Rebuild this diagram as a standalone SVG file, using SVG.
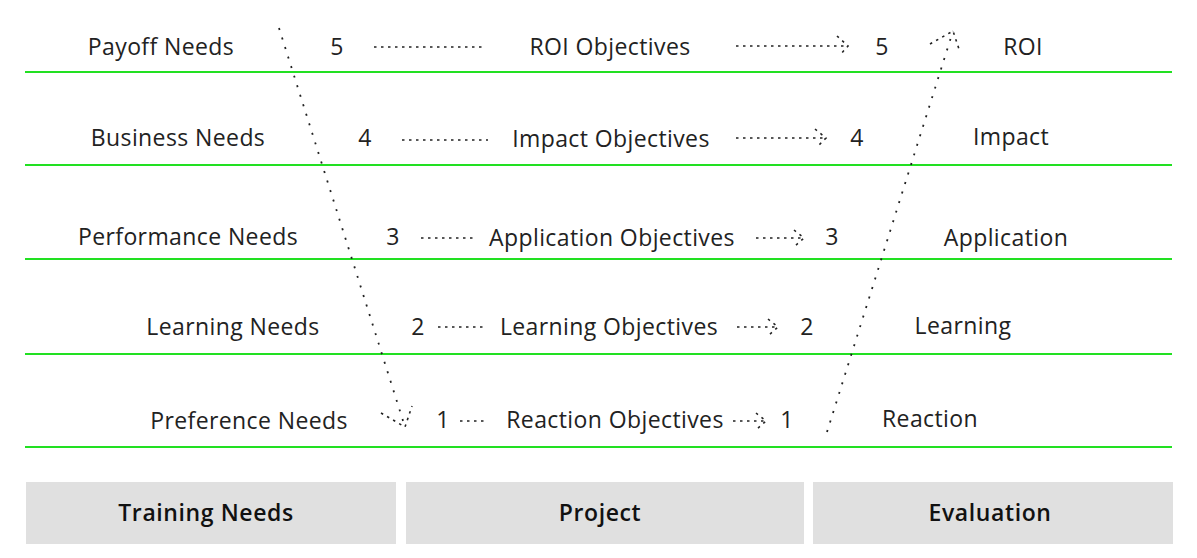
<svg xmlns="http://www.w3.org/2000/svg" width="1197" height="558" viewBox="0 0 1197 558">
<style>
.t{font-family:"Open Sans","Liberation Sans",sans-serif;font-size:23px;letter-spacing:0.4px;fill:#222;text-anchor:middle}
.b{font-family:"Open Sans","Liberation Sans",sans-serif;font-size:23px;font-weight:600;letter-spacing:0.6px;fill:#111;text-anchor:middle}
.g{stroke:#22e022;stroke-width:2}
.d{fill:none;stroke:#222;stroke-width:1.6;stroke-dasharray:2.5 4.5}
.dd{fill:none;stroke:#222;stroke-width:1.8;stroke-dasharray:2 8}
.box{fill:#e0e0e0}
</style>
<rect width="1197" height="558" fill="#fff"/>
<g id="grid">
<line class="g" x1="25" y1="72" x2="1172" y2="72"/>
<line class="g" x1="25" y1="165" x2="1172" y2="165"/>
<line class="g" x1="25" y1="259" x2="1172" y2="259"/>
<line class="g" x1="25" y1="354" x2="1172" y2="354"/>
<line class="g" x1="25" y1="447" x2="1172" y2="447"/>
</g>
<g id="training-needs">
<rect class="box" x="26" y="482" width="370" height="62"/>
<text class="b" x="206" y="521">Training Needs</text>
</g>
<g id="project">
<rect class="box" x="406" y="482" width="398" height="62"/>
<text class="b" x="600" y="521">Project</text>
</g>
<g id="evaluation">
<rect class="box" x="813" y="482" width="360" height="62"/>
<text class="b" x="990" y="521">Evaluation</text>
</g>
<g id="row5">
<text class="t" x="161" y="55">Payoff Needs</text>
<text class="t" x="337" y="55">5</text>
<text class="t" x="610" y="55">ROI Objectives</text>
<text class="t" x="882" y="55">5</text>
<text class="t" x="1023" y="55">ROI</text>
</g>
<g id="row4">
<text class="t" x="178" y="146">Business Needs</text>
<text class="t" x="365" y="146">4</text>
<text class="t" x="611" y="147">Impact Objectives</text>
<text class="t" x="857" y="146">4</text>
<text class="t" x="1011" y="145">Impact</text>
</g>
<g id="row3">
<text class="t" x="188" y="245">Performance Needs</text>
<text class="t" x="393" y="245">3</text>
<text class="t" x="612" y="246">Application Objectives</text>
<text class="t" x="832" y="245">3</text>
<text class="t" x="1006" y="246">Application</text>
</g>
<g id="row2">
<text class="t" x="233" y="335">Learning Needs</text>
<text class="t" x="418" y="335">2</text>
<text class="t" x="609" y="335">Learning Objectives</text>
<text class="t" x="807" y="335">2</text>
<text class="t" x="963" y="334">Learning</text>
</g>
<g id="row1">
<text class="t" x="249" y="429">Preference Needs</text>
<text class="t" x="443" y="428">1</text>
<text class="t" x="615" y="428">Reaction Objectives</text>
<text class="t" x="787" y="428">1</text>
<text class="t" x="930" y="427">Reaction</text>
</g>
<g id="connectors">
<line class="d" x1="374" y1="47" x2="486" y2="47"/>
<line class="d" x1="736" y1="46" x2="848" y2="46"/>
<path class="d" d="M837 36 L848 46 L840 55"/>
<line class="d" x1="402" y1="140" x2="488" y2="140"/>
<line class="d" x1="736" y1="138" x2="826" y2="138"/>
<path class="d" d="M815 129 L826 138 L817 147"/>
<line class="d" x1="421" y1="238" x2="476" y2="238"/>
<line class="d" x1="756" y1="238" x2="804" y2="238"/>
<path class="d" d="M794 230 L804 238 L795 246"/>
<line class="d" x1="438" y1="327" x2="485" y2="327"/>
<line class="d" x1="737" y1="327" x2="778" y2="327"/>
<path class="d" d="M768 319 L778 327 L769 335"/>
<line class="d" x1="460" y1="421" x2="488" y2="421"/>
<line class="d" x1="733" y1="421" x2="766" y2="421"/>
<path class="d" d="M756 413 L766 421 L757 429"/>
<line class="dd" x1="279" y1="28" x2="405" y2="427"/>
<path class="d" d="M381 413 L405 427 L412 406"/>
<line class="dd" x1="827" y1="432" x2="953" y2="31"/>
<path class="d" d="M930 44 L953 31 L960 52"/>
</g>
</svg>
